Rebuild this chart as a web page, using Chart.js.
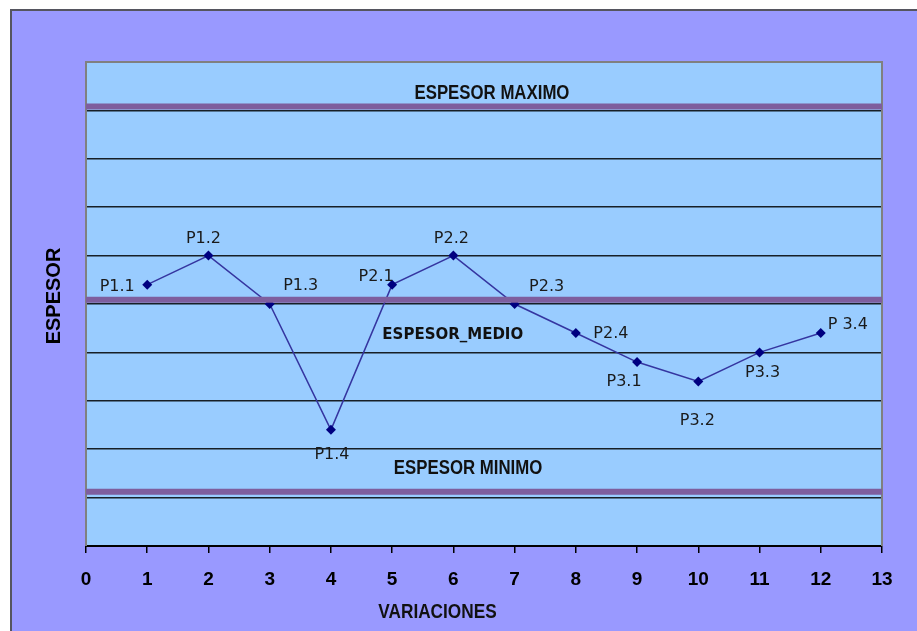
<!DOCTYPE html>
<html>
<head>
<meta charset="utf-8">
<script src="https://cdn.jsdelivr.net/npm/chart.js@4.4.1/dist/chart.umd.min.js"></script>
<style>
  html, body { margin: 0; padding: 0; background: #ffffff; }
  #wrap { width: 917px; height: 631px; }
</style>
</head>
<body>
<div id="wrap"><canvas id="c" width="917" height="631"></canvas></div>
<script>
// Measured thickness at each variation step
const variations = [1, 2, 3, 4, 5, 6, 7, 8, 9, 10, 11, 12];
const thickness = [5.4, 6.0, 5.0, 2.4, 5.4, 6.0, 5.0, 4.4, 3.8, 3.4, 4.0, 4.4];
const pointNames = ['P1.1', 'P1.2', 'P1.3', 'P1.4', 'P2.1', 'P2.2', 'P2.3', 'P2.4', 'P3.1', 'P3.2', 'P3.3', 'P 3.4'];

// Tolerance limits
const limitNames = ['ESPESOR MAXIMO', 'ESPESOR_MEDIO', 'ESPESOR MINIMO'];
const limitValues = [9.08, 5.09, 1.12];
const xRange = [0, 13];
const yRange = [0, 10];
const xTitle = 'VARIACIONES';
const yTitle = 'ESPESOR';

// Label placement (pixel offsets from each point / limit line)
const pointLabelOffsets = [
  [-30, 2], [-5, -17], [31, -18], [1, 25], [-16, -8], [-2, -17],
  [32, -17], [35, 1], [-13, 20], [-1, 39], [3, 20], [27, -8]
];
const limitLabelPlacement = [
  { x: 6.63, dy: -13, font: 'bold 21px "Liberation Sans"', squeeze: 0.8 },
  { x: 5.99, dy: 35, font: 'bold 15px "DejaVu Sans"', squeeze: 1 },
  { x: 6.24, dy: -24, font: 'bold 21px "Liberation Sans"', squeeze: 0.8 }
];

const points = variations.map((v, i) => ({ x: v, y: thickness[i] }));

const limitDatasets = limitValues.map((v, i) => ({
  label: limitNames[i],
  data: [{ x: xRange[0], y: v }, { x: xRange[1], y: v }],
  borderColor: '#7E5E9E',
  borderWidth: 6,
  pointRadius: 0,
  order: 0
}));

const frame = {
  id: 'frame',
  beforeDraw(chart) {
    const { ctx, chartArea: a } = chart;
    ctx.save();
    ctx.fillStyle = '#ffffff';
    ctx.fillRect(0, 0, chart.width, chart.height);
    ctx.fillStyle = '#9999FF';
    ctx.fillRect(11, 10, chart.width, chart.height);
    ctx.strokeStyle = '#55555f';
    ctx.lineWidth = 2;
    ctx.beginPath();
    ctx.moveTo(11, chart.height + 2);
    ctx.lineTo(11, 10);
    ctx.lineTo(chart.width + 2, 10);
    ctx.stroke();
    ctx.fillStyle = '#99CCFF';
    ctx.fillRect(a.left, a.top, a.right - a.left, a.bottom - a.top);
    ctx.restore();
  },
  beforeDatasetsDraw(chart) {
    const { ctx, chartArea: a } = chart;
    ctx.save();
    ctx.strokeStyle = '#808080';
    ctx.lineWidth = 2;
    ctx.beginPath();
    ctx.moveTo(a.left, a.bottom);
    ctx.lineTo(a.left, a.top);
    ctx.lineTo(a.right, a.top);
    ctx.lineTo(a.right, a.bottom);
    ctx.stroke();
    ctx.restore();
  },
  afterDatasetsDraw(chart) {
    const { ctx } = chart;
    const xs = chart.scales.x, ys = chart.scales.y;
    ctx.save();
    ctx.textAlign = 'center';
    ctx.textBaseline = 'middle';
    // point names
    const meta = chart.getDatasetMeta(chart.data.datasets.length - 1);
    ctx.fillStyle = '#1a1a1a';
    ctx.font = '16px "DejaVu Sans"';
    meta.data.forEach((el, i) => {
      const [dx, dy] = pointLabelOffsets[i];
      ctx.fillText(pointNames[i], el.x + dx, el.y + dy);
    });
    // limit names (narrow bold lettering)
    ctx.fillStyle = '#111111';
    limitNames.forEach((name, i) => {
      const p = limitLabelPlacement[i];
      ctx.save();
      ctx.font = p.font;
      ctx.translate(xs.getPixelForValue(p.x), ys.getPixelForValue(limitValues[i]) + p.dy);
      ctx.scale(p.squeeze, 1);
      ctx.fillText(name, 0, 0);
      ctx.restore();
    });
    // horizontal axis title
    ctx.save();
    ctx.font = 'bold 21px "Liberation Sans"';
    ctx.fillStyle = '#111111';
    ctx.translate(xs.getPixelForValue(5.74), 612);
    ctx.scale(0.82, 1);
    ctx.fillText(xTitle, 0, 0);
    ctx.restore();
    // vertical axis title
    ctx.font = 'bold 20px "Liberation Sans"';
    ctx.fillStyle = '#000000';
    ctx.translate(54, 296);
    ctx.rotate(-Math.PI / 2);
    ctx.fillText(yTitle, 0, 0);
    ctx.restore();
  }
};

new Chart(document.getElementById('c'), {
  type: 'line',
  data: {
    datasets: [
      ...limitDatasets,
      {
        label: yTitle,
        data: points,
        borderColor: '#3535A0',
        borderWidth: 1.5,
        pointStyle: 'rectRot',
        pointRadius: 5,
        pointBackgroundColor: '#000080',
        pointBorderColor: '#000080',
        pointBorderWidth: 0,
        order: 1
      }
    ]
  },
  options: {
    responsive: false,
    animation: false,
    layout: { padding: { left: 0, top: 62, right: 35, bottom: 0 } },
    plugins: { legend: { display: false }, tooltip: { enabled: false } },
    scales: {
      x: {
        type: 'linear',
        min: xRange[0],
        max: xRange[1],
        afterFit(scale) { scale.height = 85; },
        ticks: {
          stepSize: 1,
          color: '#000000',
          padding: 15,
          font: { family: '"Liberation Sans"', size: 19, weight: 'bold' }
        },
        grid: {
          drawOnChartArea: false,
          drawTicks: true,
          tickLength: 7,
          color: '#000000',
          lineWidth: 1.5
        },
        border: { display: true, color: '#000000', width: 2 },
        title: { display: false }
      },
      y: {
        type: 'linear',
        min: yRange[0],
        max: yRange[1],
        afterFit(scale) { scale.width = 86; },
        ticks: { display: false, stepSize: 1 },
        grid: {
          drawTicks: false,
          lineWidth: 1.5,
          color: (c) => (c.tick && c.tick.value > yRange[0] && c.tick.value < yRange[1]) ? 'rgba(0,0,0,0.85)' : 'rgba(0,0,0,0)'
        },
        border: { display: false }
      }
    }
  },
  plugins: [frame]
});
</script>
</body>
</html>
